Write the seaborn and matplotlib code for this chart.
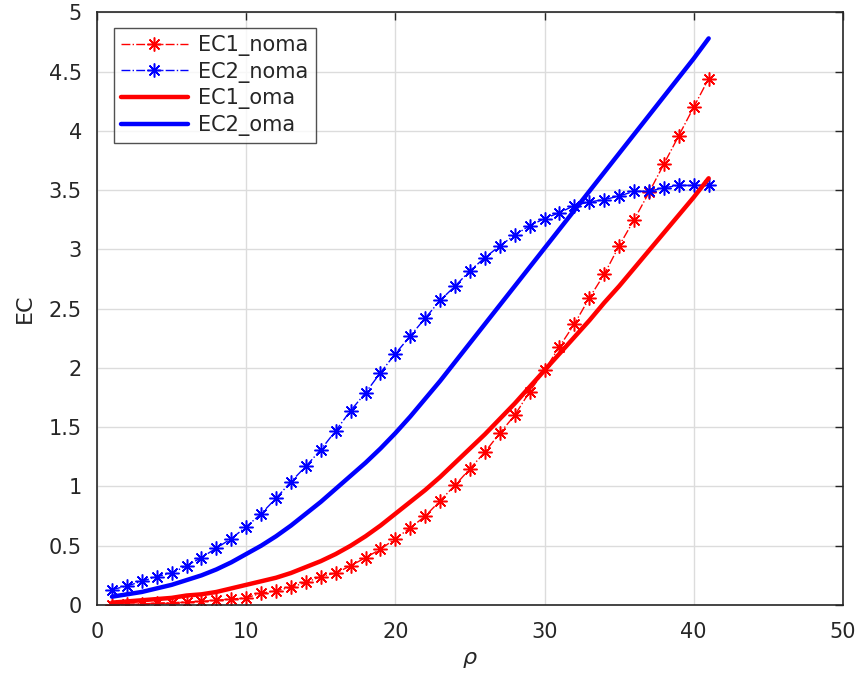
import numpy as np
import pandas as pd
import matplotlib
matplotlib.use("Agg")
import matplotlib.pyplot as plt
import seaborn as sns
from matplotlib.ticker import FuncFormatter

rho = list(range(1, 42))

ec1_noma = [0.00, 0.005, 0.01, 0.015, 0.02, 0.025, 0.03, 0.04, 0.05, 0.06,
            0.10, 0.12, 0.15, 0.19, 0.24, 0.27, 0.33, 0.40, 0.47, 0.56,
            0.65, 0.75, 0.88, 1.01, 1.15, 1.29, 1.45, 1.60, 1.80, 1.98,
            2.18, 2.37, 2.59, 2.79, 3.03, 3.25, 3.48, 3.72, 3.96, 4.20, 4.44]

ec2_noma = [0.13, 0.16, 0.20, 0.24, 0.27, 0.33, 0.40, 0.48, 0.56, 0.66,
            0.77, 0.90, 1.04, 1.17, 1.31, 1.47, 1.64, 1.79, 1.96, 2.12,
            2.27, 2.42, 2.57, 2.69, 2.82, 2.93, 3.03, 3.12, 3.20, 3.26,
            3.31, 3.37, 3.40, 3.42, 3.45, 3.49, 3.49, 3.52, 3.54, 3.54, 3.54]

ec1_oma = [0.02, 0.03, 0.04, 0.05, 0.06, 0.08, 0.09, 0.11, 0.14, 0.17,
           0.20, 0.23, 0.27, 0.32, 0.37, 0.43, 0.50, 0.58, 0.67, 0.77,
           0.87, 0.97, 1.08, 1.20, 1.32, 1.44, 1.57, 1.70, 1.84, 1.98,
           2.12, 2.26, 2.40, 2.55, 2.69, 2.84, 2.99, 3.14, 3.29, 3.44, 3.60]

ec2_oma = [0.07, 0.09, 0.11, 0.14, 0.17, 0.21, 0.25, 0.30, 0.36, 0.43,
           0.50, 0.58, 0.67, 0.77, 0.87, 0.98, 1.09, 1.20, 1.32, 1.45,
           1.59, 1.74, 1.89, 2.05, 2.21, 2.37, 2.53, 2.69, 2.85, 3.01,
           3.17, 3.33, 3.49, 3.65, 3.81, 3.97, 4.13, 4.29, 4.45, 4.61, 4.78]

x_ticks = [0, 10, 20, 30, 40, 50]
y_ticks = [0, 0.5, 1, 1.5, 2, 2.5, 3, 3.5, 4, 4.5, 5]

sns.set_style("white")
plt.rcParams['font.family'] = ['DejaVu Sans']

fig = plt.figure(figsize=(8.61, 6.84), dpi=100)
ax = fig.add_axes([0.1127, 0.1155, 0.979 - 0.1127, 0.982 - 0.1155])

star = (8, 2, 0)
sns.lineplot(x=rho, y=ec1_noma, ax=ax, color='#ff0000', linestyle='-.', lw=1,
             marker=star, markersize=10, markeredgewidth=1.1,
             markeredgecolor='#ff0000', label='EC1_noma')
sns.lineplot(x=rho, y=ec2_noma, ax=ax, color='#0000ff', linestyle='-.', lw=1,
             marker=star, markersize=10, markeredgewidth=1.1,
             markeredgecolor='#0000ff', label='EC2_noma')
sns.lineplot(x=rho, y=ec1_oma, ax=ax, color='#ff0000', linestyle='-', lw=3.2,
             label='EC1_oma')
sns.lineplot(x=rho, y=ec2_oma, ax=ax, color='#0000ff', linestyle='-', lw=3.2,
             label='EC2_oma')

ax.set_xlim(0, 50)
ax.set_ylim(0, 5)
ax.set_xticks(x_ticks)
ax.set_yticks(y_ticks)
ax.yaxis.set_major_formatter(FuncFormatter(lambda v, p: f"{v:g}"))
ax.xaxis.set_major_formatter(FuncFormatter(lambda v, p: f"{v:g}"))
ax.grid(True, color='#dcdcdc', lw=1)
ax.set_axisbelow(True)
for s in ax.spines.values():
    s.set_color('#262626')
    s.set_linewidth(1.2)
ax.tick_params(axis='both', direction='in', length=6, width=1, colors='#262626',
               labelsize=15, labelcolor='#262626', top=True, right=True)
ax.tick_params(axis='x', pad=12)
ax.tick_params(axis='y', pad=11)
ax.set_xlabel(r'$\rho$', fontsize=16, color='#262626', labelpad=6)
ax.set_ylabel('EC', fontsize=16, color='#262626', labelpad=10)

leg = ax.legend(loc='upper left', bbox_to_anchor=(0.0225, 0.974), fontsize=15,
                frameon=True, fancybox=False, edgecolor='#262626',
                handlelength=3.2, borderpad=0.35, labelspacing=0.27,
                handletextpad=0.5, borderaxespad=0)
leg.get_frame().set_linewidth(1.0)

fig.savefig('out.png', dpi=100)
